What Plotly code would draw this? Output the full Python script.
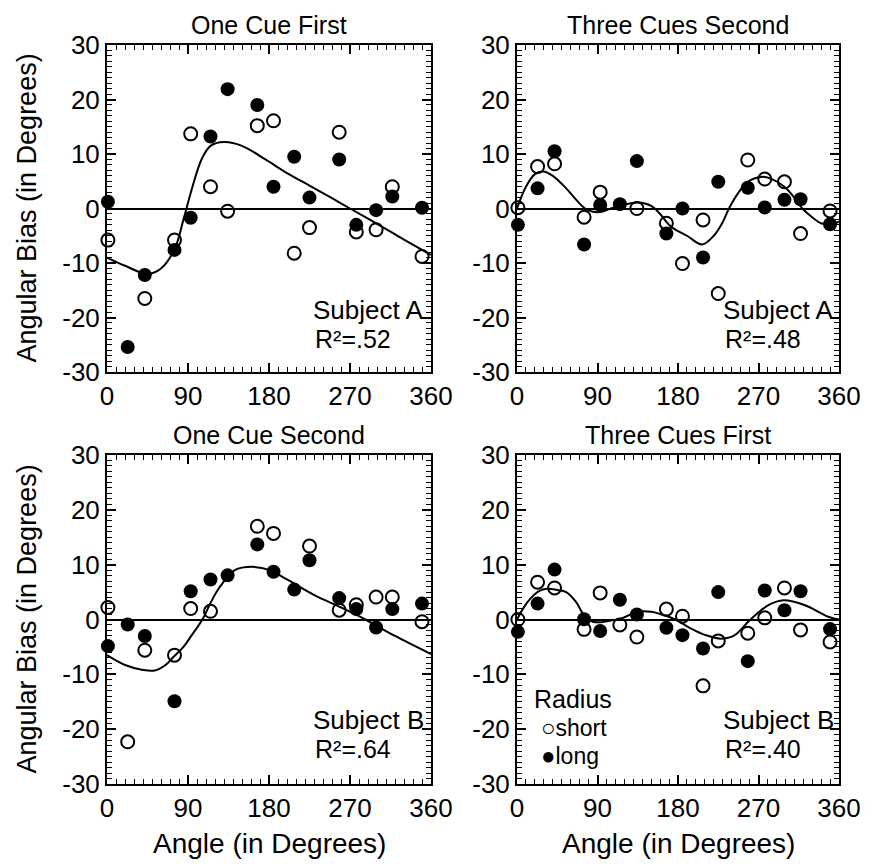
import plotly.graph_objects as go

# ---------------- data ----------------
angles = [1, 23, 42, 75, 93, 115, 134, 167, 185, 208, 225, 258, 277, 299, 317, 350]

panel_titles = ["One Cue First", "Three Cues Second", "One Cue Second", "Three Cues First"]
subjects = ["Subject A", "Subject A", "Subject B", "Subject B"]
r2_labels = ["R²=.52", "R²=.48", "R²=.64", "R²=.40"]

# One Cue First (Subject A)
tl_short = [-5.8, None, -16.5, -5.8, 13.7, 4.0, -0.5, 15.2, 16.1, -8.2, -3.5, 14.0, -4.3, -3.9, 4.0, -8.8]
tl_long = [1.25, -25.4, -12.2, -7.6, -1.7, 13.2, 21.9, 19.0, 4.0, 9.5, 2.0, 9.0, -3.0, -0.3, 2.2, 0.15]
tl_fit_x = [0, 20, 45, 60, 75, 85, 95, 105, 115, 130, 150, 176, 200, 225, 250, 270, 300, 330, 360]
tl_fit_y = [-9, -10.5, -12, -11, -7.5, -2, 4, 9, 11.5, 12.2, 11.5, 9, 6.5, 4.2, 1.9, 0, -2.8, -5.7, -8.5]

# Three Cues Second (Subject A)
tr_short = [0.15, 7.7, 8.2, -1.6, 3.0, None, 0.0, -2.7, -10.1, -2.1, -15.6, 8.9, 5.4, 4.9, -4.6, -0.45]
tr_long = [-3.0, 3.7, 10.5, -6.6, 0.65, 0.8, 8.7, -4.6, 0.0, -9.0, 4.9, 3.8, 0.2, 1.6, 1.7, -2.9]
tr_fit_x = [0, 10, 20, 29, 40, 55, 65, 76, 85, 95, 105, 116, 135, 150, 160, 172, 190, 207, 220, 230, 237,
            248, 258, 273, 285, 299, 310, 319, 330, 340, 350, 360]
tr_fit_y = [0, 4, 6.3, 6.8, 6, 3.7, 1.8, 0, -0.6, -0.6, 0, 0.5, 1.1, 0.5, -1, -3.3, -5, -6.6, -5, -2.5, 0,
            3, 4.9, 5.8, 5.4, 4.0, 2, 0, -1.6, -2.7, -3, -2.4]

# One Cue Second (Subject B)
bl_short = [2.2, -22.3, -5.6, -6.5, 2.0, 1.5, None, 17.0, 15.7, None, 13.4, 1.7, 2.7, 4.1, 4.1, -0.4]
bl_long = [-4.85, -0.9, -3.0, -14.9, 5.15, 7.3, 8.05, 13.7, 8.7, 5.45, 10.8, 3.9, 1.9, -1.45, 1.9, 2.9]
bl_fit_x = [0, 20, 40, 53, 65, 74, 85, 94, 106, 115, 124, 142, 161, 181, 200, 231, 260, 287, 320, 360]
bl_fit_y = [-6.5, -8.3, -9.2, -9.3, -8.3, -6.8, -5, -2.9, 0, 3, 5.6, 9.0, 9.6, 9.0, 7.3, 4.4, 2.2, 0, -3, -6.3]

# Three Cues First (Subject B)
br_short = [0.0, 6.8, 5.75, -1.8, 4.85, -1.0, -3.2, 1.9, 0.6, -12.1, -3.9, -2.5, 0.3, 5.75, -1.9, -4.1]
br_long = [-2.25, 2.9, 9.1, 0.05, -2.1, 3.6, 0.9, -1.5, -2.85, -5.3, 5.0, -7.6, 5.3, 1.7, 5.15, -1.75]
br_fit_x = [0, 8, 15, 25, 33, 45, 55, 66, 76, 85, 94, 105, 117, 135, 150, 160, 177, 194, 210, 228, 243,
            261, 281, 298, 322, 348, 360]
br_fit_y = [0, 2.3, 3.8, 5.2, 5.6, 5.4, 5.0, 3.2, 0.5, -0.4, -0.5, -0.2, 0.2, 1.4, 1.4, 1.0, 0, -1.6, -2.8,
            -3.5, -2.9, 0, 2.6, 3.5, 2.6, 0.5, 0]

x_tick_vals = [0, 90, 180, 270, 360]
x_tick_text = ["0", "90", "180", "270", "360"]
y_tick_vals = [-30, -20, -10, 0, 10, 20, 30]
y_tick_text = ["-30", "-20", "-10", "0", "10", "20", "30"]

x_title = "Angle (in Degrees)"
y_title = "Angular Bias (in Degrees)"
legend_title = "Radius"
legend_short = "short"
legend_long = "long"

# ---------------- layout helpers ----------------
W, H = 871, 865
OFF = 8  # page body margin of the html page
FONT = "Liberation Sans, Arial, Helvetica, sans-serif"


def fx(p):
    return (p - OFF) / W


def fy(p):
    return 1 - (p - OFF) / H


panels = [
    dict(xs=[107, 431], ys=[45, 372], short=tl_short, long=tl_long, fx_=tl_fit_x, fy_=tl_fit_y),
    dict(xs=[517, 839], ys=[45, 372], short=tr_short, long=tr_long, fx_=tr_fit_x, fy_=tr_fit_y),
    dict(xs=[107, 431], ys=[455, 784], short=bl_short, long=bl_long, fx_=bl_fit_x, fy_=bl_fit_y),
    dict(xs=[517, 839], ys=[455, 784], short=br_short, long=br_long, fx_=br_fit_x, fy_=br_fit_y),
]

fig = go.Figure()
annotations = []
layout_axes = {}

for i, p in enumerate(panels):
    n = "" if i == 0 else str(i + 1)
    xa, ya = "x" + n, "y" + n

    fig.add_trace(go.Scatter(x=p["fx_"], y=p["fy_"], mode="lines", xaxis=xa, yaxis=ya,
                             line=dict(color="black", width=2, shape="spline", smoothing=1),
                             showlegend=False, hoverinfo="skip"))
    fig.add_trace(go.Scatter(x=angles, y=p["short"], mode="markers", xaxis=xa, yaxis=ya,
                             marker=dict(symbol="circle-open", size=13, color="black",
                                         line=dict(width=2, color="black")),
                             cliponaxis=False, showlegend=False, name=legend_short))
    fig.add_trace(go.Scatter(x=angles, y=p["long"], mode="markers", xaxis=xa, yaxis=ya,
                             marker=dict(symbol="circle", size=14, color="black"),
                             cliponaxis=False, showlegend=False, name=legend_long))

    common = dict(showline=True, linewidth=2, linecolor="black", mirror="allticks",
                  showgrid=False, ticks="inside", ticklen=9, tickwidth=1.5, tickcolor="black",
                  tickfont=dict(family=FONT, size=26, color="black"), fixedrange=True,
                  automargin=False)
    layout_axes["xaxis" + n] = dict(
        common, domain=[fx(p["xs"][0]), fx(p["xs"][1])], range=[0, 360], anchor=ya,
        tickmode="array", tickvals=x_tick_vals, ticktext=x_tick_text, zeroline=False,
        minor=dict(tickmode="linear", dtick=10, tick0=0, ticks="inside", ticklen=5, tickwidth=1,
                   tickcolor="black", showgrid=False),
        ticklabelstandoff=0)
    layout_axes["yaxis" + n] = dict(
        common, domain=[fy(p["ys"][1]), fy(p["ys"][0])], range=[-30, 30], anchor=xa,
        tickmode="array", tickvals=y_tick_vals, ticktext=y_tick_text,
        zeroline=True, zerolinecolor="black", zerolinewidth=2,
        minor=dict(tickmode="linear", dtick=1, tick0=0, ticks="inside", ticklen=5, tickwidth=1,
                   tickcolor="black", showgrid=False),
        ticklabelstandoff=0)

    cx = (p["xs"][0] + p["xs"][1]) / 2
    cy = (p["ys"][0] + p["ys"][1]) / 2
    # panel title
    annotations.append(dict(text=panel_titles[i], x=fx(cx), y=fy(p["ys"][0] - 20), xref="paper", yref="paper",
                            showarrow=False, xanchor="center", yanchor="middle",
                            font=dict(family=FONT, size=25, color="black")))
    # subject / R2
    annotations.append(dict(text=subjects[i], x=fx(p["xs"][0] + 204), y=fy(p["ys"][0] + 265),
                            xref="paper", yref="paper", showarrow=False, xanchor="left", yanchor="middle",
                            font=dict(family=FONT, size=26, color="black")))
    annotations.append(dict(text=r2_labels[i], x=fx(p["xs"][0] + 206), y=fy(p["ys"][0] + 294),
                            xref="paper", yref="paper", showarrow=False, xanchor="left", yanchor="middle",
                            font=dict(family=FONT, size=25, color="black")))
    # y title (left column)
    if i in (0, 2):
        annotations.append(dict(text=y_title, x=fx(26), y=fy(cy), xref="paper", yref="paper",
                                showarrow=False, textangle=-90, xanchor="center", yanchor="middle",
                                font=dict(family=FONT, size=27, color="black")))
    # x title (bottom row)
    if i in (2, 3):
        annotations.append(dict(text=x_title, x=fx(cx), y=fy(843), xref="paper", yref="paper",
                                showarrow=False, xanchor="center", yanchor="middle",
                                font=dict(family=FONT, size=28, color="black")))

# legend (Radius) inside bottom-right panel
annotations.append(dict(text=legend_title, x=fx(532), y=fy(699), xref="paper", yref="paper",
                        showarrow=False, xanchor="left", yanchor="middle",
                        font=dict(family=FONT, size=25, color="black")))
annotations.append(dict(text="<span style='font-size:24px'>○</span>" + legend_short, x=fx(539), y=fy(727),
                        xref="paper", yref="paper", showarrow=False, xanchor="left", yanchor="middle",
                        font=dict(family=FONT, size=23, color="black")))
annotations.append(dict(text="<span style='font-size:24px'>●</span>" + legend_long, x=fx(539), y=fy(755),
                        xref="paper", yref="paper", showarrow=False, xanchor="left", yanchor="middle",
                        font=dict(family=FONT, size=23, color="black")))

fig.update_layout(width=W, height=H, margin=dict(l=0, r=0, t=0, b=0, autoexpand=False),
                  template="none", paper_bgcolor="white", plot_bgcolor="white",
                  annotations=annotations, showlegend=False, **layout_axes)

fig.write_html("out.html")
